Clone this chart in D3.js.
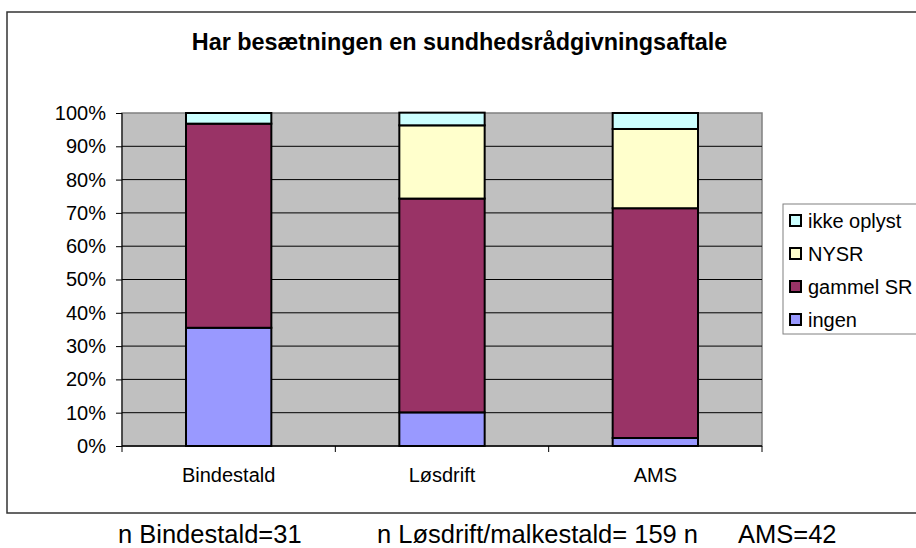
<!DOCTYPE html>
<html>
<head>
<meta charset="utf-8">
<script src="https://cdn.jsdelivr.net/npm/d3@7"></script>
<style>
  body { margin: 0; background: #fff; }
  svg { display: block; font-family: "Liberation Sans", Arial, sans-serif; }
</style>
</head>
<body>
<script>
// data (percent of herds)
const categories = ["Bindestald", "Løsdrift", "AMS"];
const seriesNames = ["ingen", "gammel SR", "NYSR", "ikke oplyst"];
const ingen = [35.5, 10.1, 2.4];
const gammelSR = [61.3, 64.2, 69.0];
const nysr = [0, 22.0, 23.8];
const ikkeOplyst = [3.2, 3.8, 4.8];
const yTicks = [0, 10, 20, 30, 40, 50, 60, 70, 80, 90, 100];
const footnotes = ["n Bindestald=31", "n Løsdrift/malkestald= 159 n", "AMS=42"];

const colors = {
  "ingen": "#9999ff",
  "gammel SR": "#993366",
  "NYSR": "#ffffcc",
  "ikke oplyst": "#ccffff"
};

const W = 916, H = 548;
const plot = {left: 122, right: 762, top: 113, bottom: 446};

const svg = d3.select("body").append("svg")
  .attr("width", W)
  .attr("height", H);

// outer chart frame (runs off the right edge like the original)
svg.append("rect")
  .attr("x", 7).attr("y", 12)
  .attr("width", 940).attr("height", 501)
  .attr("fill", "#fff")
  .attr("stroke", "#333")
  .attr("stroke-width", 1.5);

svg.append("text")
  .attr("x", 459.5).attr("y", 50)
  .attr("text-anchor", "middle")
  .attr("font-weight", "bold")
  .attr("font-size", 23.4)
  .text("Har besætningen en sundhedsrådgivningsaftale");

const x = d3.scaleBand()
  .domain(categories)
  .range([plot.left, plot.right])
  .paddingInner(0.6)
  .paddingOuter(0.3);

const y = d3.scaleLinear()
  .domain([0, 100])
  .range([plot.bottom, plot.top]);

// plot area
svg.append("rect")
  .attr("x", plot.left).attr("y", plot.top)
  .attr("width", plot.right - plot.left)
  .attr("height", plot.bottom - plot.top)
  .attr("fill", "#c0c0c0")
  .attr("stroke", "#808080")
  .attr("stroke-width", 1.5);

// gridlines
svg.append("g")
  .selectAll("line")
  .data(yTicks.filter(d => d > 0 && d < 100))
  .enter().append("line")
  .attr("x1", plot.left).attr("x2", plot.right)
  .attr("y1", d => y(d)).attr("y2", d => y(d))
  .attr("stroke", "#000")
  .attr("stroke-width", 1);

// stacked data
const table = categories.map((c, i) => ({
  cat: c,
  "ingen": ingen[i],
  "gammel SR": gammelSR[i],
  "NYSR": nysr[i],
  "ikke oplyst": ikkeOplyst[i]
}));
const stacked = d3.stack().keys(seriesNames)(table);

stacked.forEach(layer => {
  svg.append("g")
    .selectAll("rect")
    .data(layer.filter(d => d[1] - d[0] > 0))
    .enter().append("rect")
    .attr("x", d => x(d.data.cat))
    .attr("width", x.bandwidth())
    .attr("y", d => y(d[1]))
    .attr("height", d => y(d[0]) - y(d[1]))
    .attr("fill", colors[layer.key])
    .attr("stroke", "#000")
    .attr("stroke-width", 2);
});

// y axis
const yAxis = svg.append("g")
  .attr("transform", `translate(${plot.left},0)`)
  .call(d3.axisLeft(y).tickValues(yTicks).tickSize(6).tickPadding(10)
    .tickFormat(d => d + "%"));
yAxis.selectAll("text").attr("font-size", 20).attr("fill", "#000")
  .attr("font-family", "Liberation Sans, Arial, sans-serif");
yAxis.selectAll("line").attr("stroke", "#000");
yAxis.select(".domain").attr("stroke", "#000").attr("d", `M0,${plot.top}V${plot.bottom}`);

// x axis: ticks at category boundaries
const xAxis = svg.append("g")
  .attr("transform", `translate(0,${plot.bottom})`);
xAxis.append("line")
  .attr("x1", plot.left).attr("x2", plot.right)
  .attr("stroke", "#000").attr("stroke-width", 1.5);
const step = x.step();
xAxis.selectAll("line.tick")
  .data(d3.range(categories.length + 1))
  .enter().append("line")
  .attr("class", "tick")
  .attr("x1", i => plot.left + i * step)
  .attr("x2", i => plot.left + i * step)
  .attr("y1", 0).attr("y2", 6)
  .attr("stroke", "#000");
xAxis.selectAll("text")
  .data(categories)
  .enter().append("text")
  .attr("x", d => x(d) + x.bandwidth() / 2)
  .attr("y", 36)
  .attr("text-anchor", "middle")
  .attr("font-size", 20)
  .text(d => d);

// legend
const legend = svg.append("g");
legend.append("rect")
  .attr("x", 783).attr("y", 204)
  .attr("width", 160).attr("height", 130)
  .attr("fill", "#fff")
  .attr("stroke", "#808080");
const legendItems = seriesNames.slice().reverse();
const li = legend.selectAll("g.item")
  .data(legendItems)
  .enter().append("g")
  .attr("class", "item")
  .attr("transform", (d, i) => `translate(0,${221 + i * 33})`);
li.append("rect")
  .attr("x", 790).attr("y", -6)
  .attr("width", 11).attr("height", 11)
  .attr("fill", d => colors[d])
  .attr("stroke", "#000")
  .attr("stroke-width", 2);
li.append("text")
  .attr("x", 808).attr("y", 7)
  .attr("font-size", 20)
  .text(d => d);

// sample sizes below the chart
const footX = [118, 377, 738];
svg.append("g")
  .selectAll("text")
  .data(footnotes)
  .enter().append("text")
  .attr("x", (d, i) => footX[i])
  .attr("y", 543)
  .attr("font-size", 25.5)
  .text(d => d);
</script>
</body>
</html>
